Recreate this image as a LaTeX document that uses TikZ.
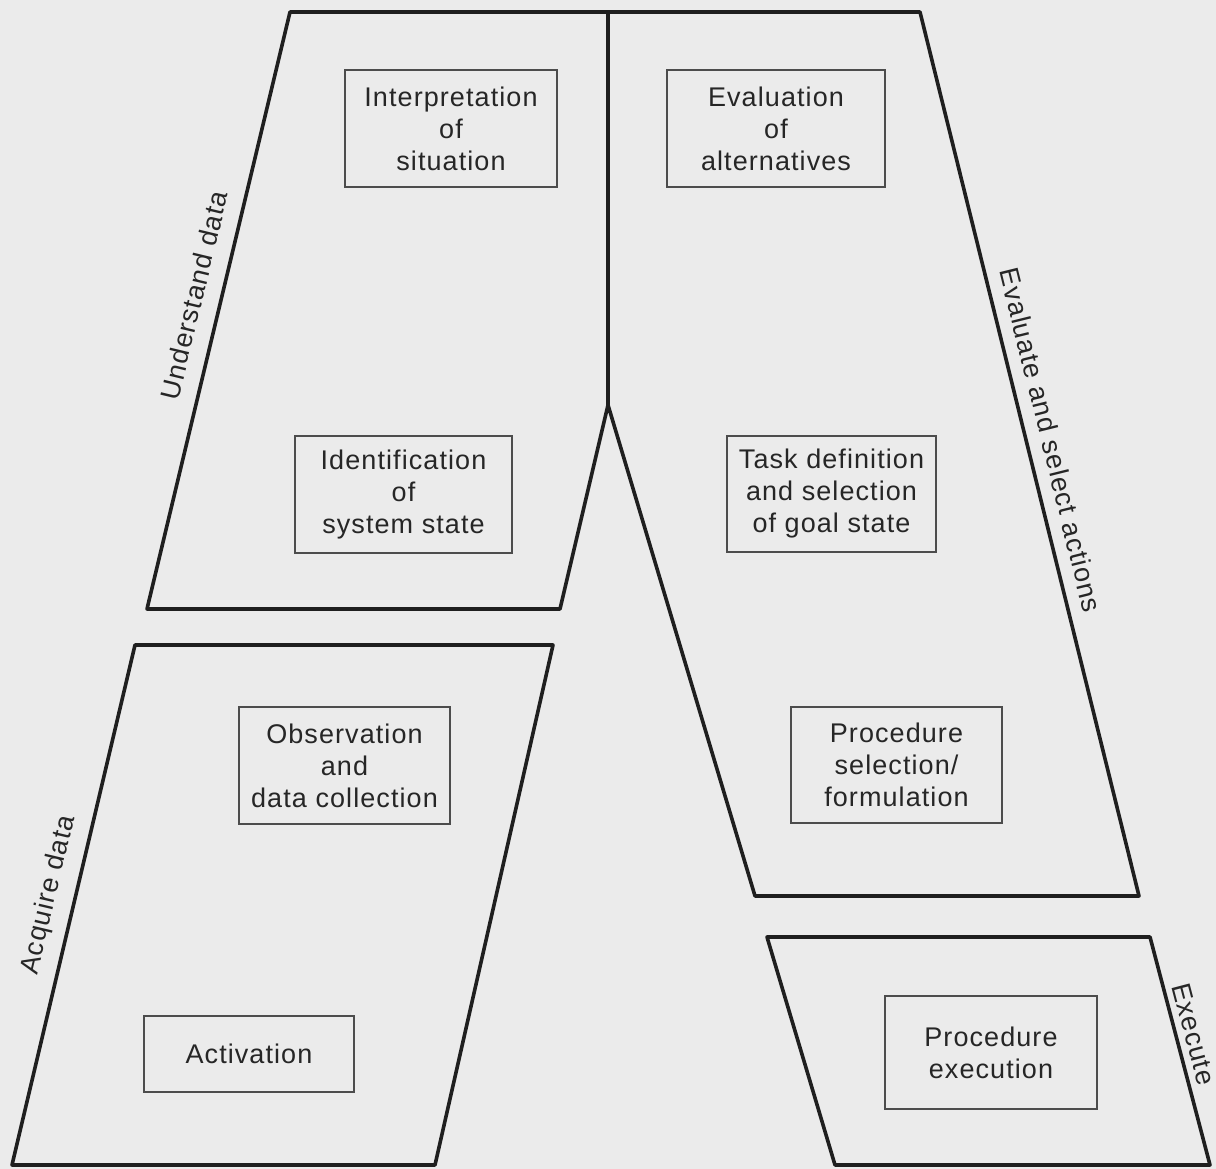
\documentclass[tikz,border=0pt]{standalone}
\usepackage{fontspec}
\setmainfont{Liberation Sans}[LetterSpace=4]
\begin{document}
\begin{tikzpicture}[x=1pt,y=-1pt,
  frame/.style={draw=black!88, line width=3.6pt, line join=round},
  stage/.style={draw=black!70, line width=1.8pt, rectangle, inner sep=0pt,
    align=center, font=\fontsize{27}{32}\selectfont, text=black!85},
  phase/.style={font=\fontsize{27}{31}\selectfont, text=black!85, inner sep=0pt}]
  % page and background
  \fill[black!8] (0,0) rectangle (1216,1169);
  \useasboundingbox (0,0) rectangle (1216,1169);

  % upper "A" frame: understand data (left) and evaluate/select actions (right)
  \draw[frame] (290,12) -- (920,12) -- (1139,896) -- (755,896) -- (608,405)
    -- (560,609) -- (147,609) -- cycle;
  \draw[frame] (608,12) -- (608,405);
  % acquire data frame
  \draw[frame] (135,645) -- (553,645) -- (435,1165) -- (12,1165) -- cycle;
  % execute frame
  \draw[frame] (767,937) -- (1150,937) -- (1210,1165) -- (835,1165) -- cycle;

  % stage boxes
  \node[stage, minimum width=212pt, minimum height=117pt] (interp) at (451,128.5)
    {Interpretation\\of\\situation};
  \node[stage, minimum width=218pt, minimum height=117pt] (evalalt) at (776,128.5)
    {Evaluation\\of\\alternatives};
  \node[stage, minimum width=217pt, minimum height=117pt] (ident) at (403.5,494.5)
    {Identification\\of\\system state};
  \node[stage, minimum width=209pt, minimum height=116pt] (taskdef) at (831.5,494)
    {Task definition\\and selection\\of goal state};
  \node[stage, minimum width=211pt, minimum height=117pt] (observe) at (344.5,765.5)
    {Observation\\and\\data collection};
  \node[stage, minimum width=211pt, minimum height=116pt] (procsel) at (896.5,765)
    {Procedure\\selection/\\formulation};
  \node[stage, minimum width=210pt, minimum height=76pt] (activ) at (249,1054)
    {Activation};
  \node[stage, minimum width=212pt, minimum height=113pt] (procexe) at (991,1052.5)
    {Procedure\\execution};

  % phase labels along the slanted sides
  \node[phase, rotate=76.5] (understand) at (194,295) {Understand data};
  \node[phase, rotate=-76.1] (evaluate) at (1051,440) {Evaluate and select actions};
  \node[phase, rotate=76.7] (acquire) at (49,895) {Acquire data};
  \node[phase, rotate=-75.3] (execute) at (1194,1034) {Execute};
\end{tikzpicture}
\end{document}
